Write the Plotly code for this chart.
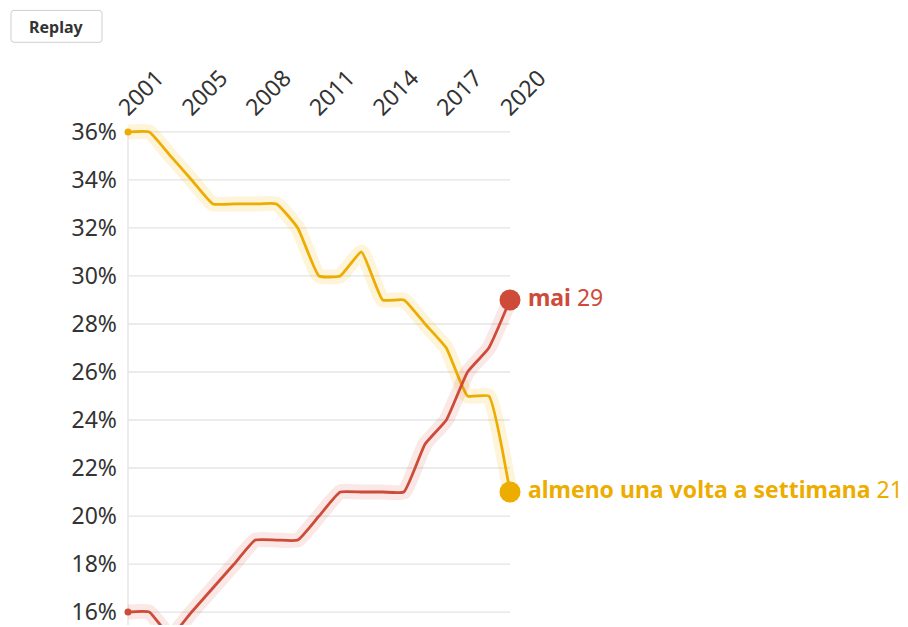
import plotly.graph_objects as go

years = ["2001", "2002", "2003", "2005", "2006", "2007", "2008", "2009", "2010",
         "2011", "2012", "2013", "2014", "2015", "2016", "2017", "2018", "2019", "2020"]
weekly = [36, 36, 35, 34, 33, 33, 33, 33, 32, 30, 30, 31, 29, 29, 28, 27, 25, 25, 21]
never = [16, 16, 15, 16, 17, 18, 19, 19, 19, 20, 21, 21, 21, 21, 23, 24, 26, 27, 29]
tick_years = ["2001", "2005", "2008", "2011", "2014", "2017", "2020"]
y_ticks = [16, 18, 20, 22, 24, 26, 28, 30, 32, 34, 36]
name_weekly = "almeno una volta a settimana"
name_never = "mai"

YEL = "#EDAC00"
RED = "#CF4B39"
YEL_HALO = "rgba(240,178,0,0.15)"
RED_HALO = "rgba(207,75,57,0.13)"
FONT = "Noto Sans"

# page has an 8px body margin, so the figure is 8px smaller and targets are shifted
W, H = 900, 619
X0, X1 = 120, 502      # pixel of first / last year
Y36, Y16 = 124, 606    # pixel of 36% / 16%
ML, MR, MT, MB = 100, 378, 107, 0
n = len(years)
step = (X1 - X0) / (n - 1)
x_lo = (ML - X0) / step
x_hi = (n - 1) + (W - MR - X1) / step
ppu = (Y16 - Y36) / 20.0
y_hi = 36 + (Y36 - MT) / ppu
y_lo = 36 - (H - MB - Y36) / ppu
pw = W - ML - MR
ph = H - MT - MB


def px(x):
    return (x - ML) / pw


def py(y):
    return (H - MB - y) / ph


fig = go.Figure()

for v in y_ticks:
    fig.add_shape(type="line", xref="x", yref="y", x0=0, x1=n - 1, y0=v, y1=v,
                  line=dict(color="#E4E4E4", width=1.3), layer="below")
fig.add_shape(type="line", xref="x", yref="paper", x0=0, x1=0, y0=0,
              y1=(36 - y_lo) / (y_hi - y_lo),
              line=dict(color="#E4E4E4", width=1.3), layer="below")

for vals, col, halo, label in [(weekly, YEL, YEL_HALO, name_weekly),
                               (never, RED, RED_HALO, name_never)]:
    fig.add_trace(go.Scatter(x=years, y=vals, mode="lines",
                             line=dict(color=halo, width=15, shape="spline", smoothing=0.4),
                             hoverinfo="skip", showlegend=False))
    fig.add_trace(go.Scatter(x=years, y=vals, mode="lines",
                             line=dict(color=col, width=2.8, shape="spline", smoothing=0.4),
                             showlegend=False))
    fig.add_trace(go.Scatter(x=[years[0]], y=[vals[0]], mode="markers",
                             marker=dict(color=col, size=7), cliponaxis=False, showlegend=False))
    fig.add_trace(go.Scatter(x=[years[-1]], y=[vals[-1]], mode="markers",
                             marker=dict(color=col, size=21),
                             cliponaxis=False, showlegend=False))
    # label: invisible marker sets the text offset
    fig.add_trace(go.Scatter(x=[years[-1]], y=[vals[-1]], mode="markers+text",
                             marker=dict(color="rgba(0,0,0,0)", size=27),
                             text=[f"<b>{label}</b> {vals[-1]}"], textposition="middle right",
                             textfont=dict(family=FONT, size=23, color=col),
                             hoverinfo="skip", cliponaxis=False, showlegend=False))

# Replay button (rounded rectangle)
bx0, bx1, by0, by1, r = 3, 94, 2, 34, 3
path = (f"M {px(bx0 + r)} {py(by0)} L {px(bx1 - r)} {py(by0)} "
        f"Q {px(bx1)} {py(by0)} {px(bx1)} {py(by0 + r)} L {px(bx1)} {py(by1 - r)} "
        f"Q {px(bx1)} {py(by1)} {px(bx1 - r)} {py(by1)} L {px(bx0 + r)} {py(by1)} "
        f"Q {px(bx0)} {py(by1)} {px(bx0)} {py(by1 - r)} L {px(bx0)} {py(by0 + r)} "
        f"Q {px(bx0)} {py(by0)} {px(bx0 + r)} {py(by0)} Z")
fig.add_shape(type="path", xref="paper", yref="paper", path=path,
              line=dict(color="#CFCFCF", width=1), fillcolor="white")
fig.add_annotation(xref="paper", yref="paper", x=px(48.5), y=py(18.5),
                   text="<b>Replay</b>", showarrow=False, xanchor="center", yanchor="middle",
                   font=dict(family=FONT, size=16, color="#333333"))

fig.update_layout(
    width=W, height=H,
    margin=dict(l=ML, r=MR, t=MT, b=MB),
    plot_bgcolor="white", paper_bgcolor="white",
    showlegend=False,
    font=dict(family=FONT, color="#333333"),
    xaxis=dict(type="category", categoryorder="array", categoryarray=years,
               range=[x_lo, x_hi], side="top", tickmode="array", tickvals=tick_years,
               ticktext=tick_years, tickangle=-45, showgrid=False, zeroline=False,
               showline=False, ticks="", ticklabelshift=-8, ticklabelstandoff=-11,
               ticklabeloverflow="allow",
               tickfont=dict(family=FONT, size=23, color="#333333")),
    yaxis=dict(range=[y_lo, y_hi], tickmode="array", tickvals=y_ticks,
               ticktext=[f"{v}%" for v in y_ticks], showgrid=False, zeroline=False,
               showline=False, ticks="", ticklabelstandoff=-10,
               ticklabeloverflow="allow",
               tickfont=dict(family=FONT, size=23, color="#333333")),
)

fig.write_html("out.html", config={"displayModeBar": False})
